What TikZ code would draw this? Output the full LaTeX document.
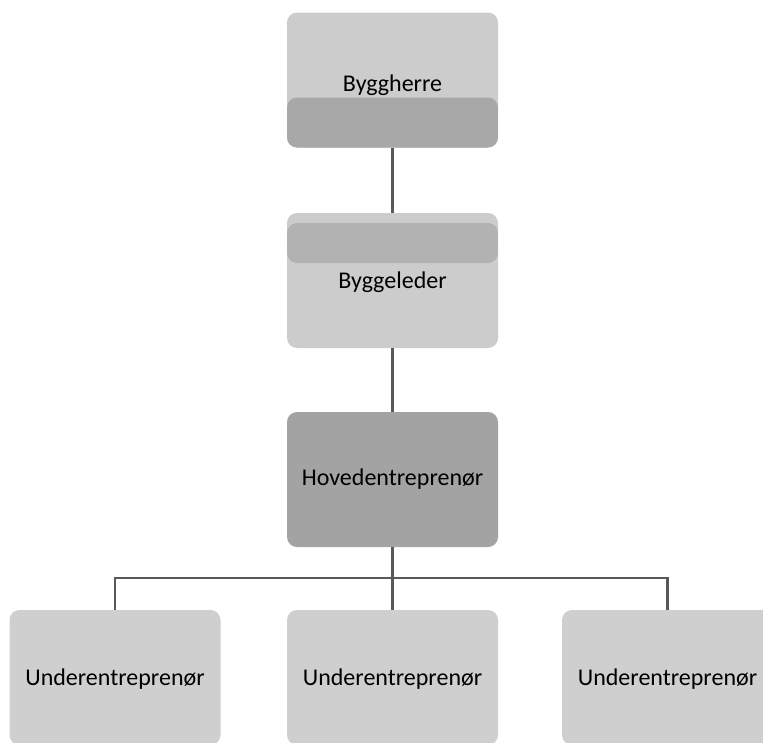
\documentclass[tikz,border=0pt]{standalone}
\usepackage{fontspec}
\setmainfont{Carlito}
\begin{document}
\begin{tikzpicture}[x=1pt,y=-1pt,
  orgbox/.style={rounded corners=10pt, minimum width=211pt, minimum height=135pt,
    inner sep=0pt, font=\fontsize{24}{28}\selectfont, text=black},
  label/.style={font=\fontsize{24}{28}\selectfont, text=black, inner sep=0pt},
  conn/.style={draw=black!65, line width=2.6pt}]
\useasboundingbox (0,0) rectangle (763,742);
\clip (0,0) rectangle (763,742);
\fill[white] (0,0) rectangle (763,742);

% top level: light body with a darker lower band
\node[orgbox, fill=black!20,
  path picture={\fill[black!34] ([yshift=-50pt]path picture bounding box.south west) rectangle
     ([yshift=50pt]path picture bounding box.south east);}] (bh) at (392.5,80) {};
\node[label] at ([yshift=-5pt]bh.center) {Byggherre};

% second level: darker band on top
\node[orgbox, fill=black!20,
  path picture={\fill[black!30] ([yshift=-10pt]path picture bounding box.north west) rectangle
     ([yshift=-50pt]path picture bounding box.north east);}] (bl) at (392.5,280.5) {};
\node[label] at ([yshift=-2pt]bl.center) {Byggeleder};

% main contractor
\node[orgbox, fill=black!36] (hv) at (392.5,479.5) {Hovedentreprenør};

% subcontractors
\node[orgbox, fill=black!19] (u1) at (115,677.5) {};
\node[orgbox, fill=black!19] (u2) at (392.5,677.5) {};
\node[orgbox, fill=black!19] (u3) at (667.5,677.5) {};
\foreach \u in {u1,u2,u3}
  \node[label] at ([yshift=-2pt]\u.center) {Underentreprenør};

% connectors
\coordinate (bus) at (392.5,578);
\draw[conn] (bh.south) -- (bl.north);
\draw[conn] (bl.south) -- (hv.north);
\draw[conn] (hv.south) -- (bus);
\draw[conn] (u1.north) |- (bus) -| (u3.north);
\draw[conn] (bus) -- (u2.north);
\end{tikzpicture}
\end{document}
